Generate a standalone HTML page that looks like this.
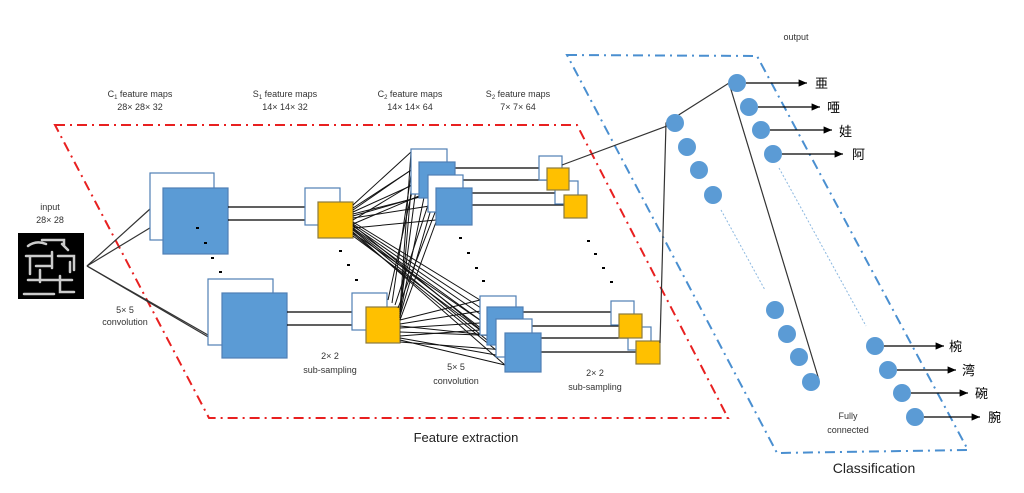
<!DOCTYPE html>
<html><head><meta charset="utf-8"><style>body{margin:0;background:#fff}svg{display:block}</style></head><body>
<svg width="1024" height="493" viewBox="0 0 1024 493" xmlns="http://www.w3.org/2000/svg" font-family="Liberation Sans, Noto Sans CJK JP, sans-serif">
<defs><marker id="a" markerWidth="8" markerHeight="8" refX="7" refY="4" orient="auto"><path d="M0,1 L7,4 L0,7 z" fill="#000"/></marker></defs>
<polygon points="55,125 577,125 728,418 209,418" fill="none" stroke="#e82020" stroke-width="2" stroke-dasharray="10,5,2,5"/>
<polygon points="567,55 757,56 968,450 777,453" fill="none" stroke="#4a8fd0" stroke-width="2" stroke-dasharray="10,5,2,5"/>
<rect x="18" y="233" width="66" height="66" fill="#000"/>
<g stroke="#ccc" stroke-width="2.5" fill="none" stroke-linecap="round"><path d="M28,246 q8,-6 18,-2 M42,240 h22 v6 M26,256 h26 M30,256 v18 M52,252 v16 M58,256 h16 v14 M36,266 h14 M28,280 h44 M40,270 v12 M60,276 v16 h14 M24,294 h30 M62,244 l6,6 M70,262 v10"/></g>
<g stroke="#333" stroke-width="1.2"><line x1="87" y1="266" x2="150" y2="209"/><line x1="87" y1="266" x2="163" y2="220"/><line x1="87" y1="266" x2="208" y2="335"/><line x1="87" y1="266" x2="222" y2="345"/></g>
<g stroke="#4f7fb5" stroke-width="1.2"><rect x="150" y="173" width="64" height="67" fill="#fff"/><rect x="163" y="188" width="65" height="66" fill="#5b9bd5"/><rect x="208" y="279" width="65" height="66" fill="#fff"/><rect x="222" y="293" width="65" height="65" fill="#5b9bd5"/></g>
<g stroke="#000" stroke-width="1.2"><line x1="228" y1="207" x2="305" y2="207"/><line x1="228" y1="220" x2="318" y2="220"/><line x1="287" y1="312" x2="352" y2="312"/><line x1="287" y1="325" x2="366" y2="325"/></g>
<g stroke="#4f7fb5" stroke-width="1.2"><rect x="305" y="188" width="35" height="37" fill="#fff"/><rect x="352" y="293" width="35" height="37" fill="#fff"/></g>
<g stroke="#8a7a40" stroke-width="1.2" fill="#ffc000"><rect x="318" y="202" width="35" height="36"/><rect x="366" y="307" width="34" height="36"/></g>
<g stroke="#111" stroke-width="1">
<line x1="353" y1="205" x2="411" y2="152"/><line x1="353" y1="208" x2="419" y2="165"/><line x1="353" y1="212" x2="428" y2="178"/><line x1="353" y1="216" x2="436" y2="192"/><line x1="353" y1="220" x2="411" y2="185"/><line x1="353" y1="224" x2="419" y2="196"/><line x1="353" y1="228" x2="436" y2="220"/><line x1="353" y1="210" x2="411" y2="170"/><line x1="353" y1="214" x2="428" y2="195"/><line x1="353" y1="218" x2="436" y2="205"/>
<line x1="353" y1="222" x2="480" y2="300"/><line x1="353" y1="224" x2="487" y2="312"/><line x1="353" y1="226" x2="496" y2="325"/><line x1="353" y1="228" x2="505" y2="338"/><line x1="353" y1="230" x2="487" y2="340"/><line x1="353" y1="232" x2="505" y2="365"/><line x1="353" y1="234" x2="496" y2="350"/><line x1="353" y1="236" x2="480" y2="330"/><line x1="353" y1="225" x2="505" y2="350"/><line x1="353" y1="229" x2="496" y2="340"/><line x1="353" y1="233" x2="487" y2="325"/>
<line x1="400" y1="310" x2="411" y2="152"/><line x1="400" y1="312" x2="419" y2="165"/><line x1="400" y1="314" x2="428" y2="178"/><line x1="400" y1="316" x2="436" y2="192"/><line x1="400" y1="318" x2="411" y2="190"/><line x1="400" y1="320" x2="436" y2="222"/><line x1="388" y1="300" x2="419" y2="160"/><line x1="395" y1="305" x2="428" y2="205"/><line x1="392" y1="303" x2="411" y2="175"/><line x1="398" y1="308" x2="436" y2="210"/>
<line x1="400" y1="320" x2="480" y2="300"/><line x1="400" y1="324" x2="487" y2="310"/><line x1="400" y1="328" x2="496" y2="322"/><line x1="400" y1="332" x2="505" y2="336"/><line x1="400" y1="336" x2="480" y2="330"/><line x1="400" y1="340" x2="505" y2="365"/><line x1="400" y1="338" x2="496" y2="355"/><line x1="400" y1="342" x2="505" y2="350"/><line x1="400" y1="326" x2="487" y2="335"/>
</g>
<g stroke="#000" stroke-width="1.2"><line x1="455" y1="168" x2="540" y2="168"/><line x1="455" y1="180" x2="547" y2="180"/><line x1="472" y1="193" x2="556" y2="193"/><line x1="472" y1="205" x2="564" y2="205"/>
<line x1="523" y1="312" x2="611" y2="312"/><line x1="523" y1="326" x2="619" y2="326"/><line x1="541" y1="338" x2="628" y2="338"/><line x1="541" y1="352" x2="636" y2="352"/></g>
<g stroke="#4f7fb5" stroke-width="1.2">
<rect x="411" y="149" width="36" height="45" fill="#fff"/><rect x="419" y="162" width="36" height="36" fill="#5b9bd5"/><rect x="428" y="175" width="35" height="37" fill="#fff"/><rect x="436" y="188" width="36" height="37" fill="#5b9bd5"/>
<rect x="480" y="296" width="36" height="39" fill="#fff"/><rect x="487" y="307" width="36" height="38" fill="#5b9bd5"/><rect x="496" y="319" width="36" height="38" fill="#fff"/><rect x="505" y="333" width="36" height="39" fill="#5b9bd5"/>
<rect x="539" y="156" width="23" height="24" fill="#fff"/><rect x="555" y="181" width="23" height="23" fill="#fff"/><rect x="611" y="301" width="23" height="24" fill="#fff"/><rect x="628" y="327" width="23" height="23" fill="#fff"/></g>
<g stroke="#8a7a40" stroke-width="1.2" fill="#ffc000"><rect x="547" y="168" width="22" height="22"/><rect x="564" y="195" width="23" height="23"/><rect x="619" y="314" width="23" height="24"/><rect x="636" y="341" width="24" height="23"/></g>
<g fill="#000"><rect x="196" y="227" width="3" height="2"/><rect x="204" y="242" width="3" height="2"/><rect x="211" y="257" width="3" height="2"/><rect x="219" y="271" width="3" height="2"/>
<rect x="339" y="250" width="3" height="2"/><rect x="347" y="264" width="3" height="2"/><rect x="355" y="279" width="3" height="2"/>
<rect x="459" y="237" width="3" height="2"/><rect x="467" y="252" width="3" height="2"/><rect x="475" y="267" width="3" height="2"/><rect x="482" y="280" width="3" height="2"/>
<rect x="587" y="240" width="3" height="2"/><rect x="594" y="253" width="3" height="2"/><rect x="602" y="267" width="3" height="2"/><rect x="610" y="281" width="3" height="2"/></g>
<g stroke="#333" stroke-width="1.2" fill="none"><line x1="562" y1="165" x2="675" y2="123"/><polyline points="660,343 666,123 729,83 819,380"/></g>
<g stroke="#8cb8e0" stroke-width="1" stroke-dasharray="2,2"><line x1="721" y1="210" x2="765" y2="290"/><line x1="779" y1="168" x2="866" y2="326"/></g>
<g fill="#5b9bd5"><circle cx="675" cy="123" r="9"/><circle cx="687" cy="147" r="9"/><circle cx="699" cy="170" r="9"/><circle cx="713" cy="195" r="9"/><circle cx="775" cy="310" r="9"/><circle cx="787" cy="334" r="9"/><circle cx="799" cy="357" r="9"/><circle cx="811" cy="382" r="9"/>
<circle cx="737" cy="83" r="9"/><circle cx="749" cy="107" r="9"/><circle cx="761" cy="130" r="9"/><circle cx="773" cy="154" r="9"/><circle cx="875" cy="346" r="9"/><circle cx="888" cy="370" r="9"/><circle cx="902" cy="393" r="9"/><circle cx="915" cy="417" r="9"/></g>
<g stroke="#000" stroke-width="1.2" marker-end="url(#a)"><line x1="746" y1="83" x2="807" y2="83"/><line x1="758" y1="107" x2="820" y2="107"/><line x1="770" y1="130" x2="832" y2="130"/><line x1="782" y1="154" x2="843" y2="154"/>
<line x1="884" y1="346" x2="944" y2="346"/><line x1="897" y1="370" x2="956" y2="370"/><line x1="911" y1="393" x2="968" y2="393"/><line x1="924" y1="417" x2="980" y2="417"/></g>
<g font-size="13" fill="#000"><text x="815" y="88">亜</text><text x="827" y="112">唖</text><text x="839" y="136">娃</text><text x="852" y="159">阿</text>
<text x="949" y="351">椀</text><text x="962" y="375">湾</text><text x="975" y="398">碗</text><text x="988" y="422">腕</text></g>
<g font-size="9" fill="#333" text-anchor="middle">
<text x="796" y="40">output</text><text x="848" y="419">Fully</text><text x="848" y="433">connected</text>
<text x="140" y="97">C<tspan font-size="6" dy="2">1</tspan><tspan dy="-2"> feature maps</tspan></text><text x="140" y="110">28× 28× 32</text>
<text x="285" y="97">S<tspan font-size="6" dy="2">1</tspan><tspan dy="-2"> feature maps</tspan></text><text x="285" y="110">14× 14× 32</text>
<text x="410" y="97">C<tspan font-size="6" dy="2">2</tspan><tspan dy="-2"> feature maps</tspan></text><text x="410" y="110">14× 14× 64</text>
<text x="518" y="97">S<tspan font-size="6" dy="2">2</tspan><tspan dy="-2"> feature maps</tspan></text><text x="518" y="110">7× 7× 64</text>
<text x="50" y="210">input</text><text x="50" y="223">28× 28</text>
<text x="125" y="313">5× 5</text><text x="125" y="325">convolution</text>
<text x="330" y="359">2× 2</text><text x="330" y="373">sub-sampling</text>
<text x="456" y="370">5× 5</text><text x="456" y="384">convolution</text>
<text x="595" y="376">2× 2</text><text x="595" y="390">sub-sampling</text></g>
<text x="466" y="442" font-size="13" fill="#222" text-anchor="middle">Feature extraction</text>
<text x="874" y="473" font-size="14" fill="#222" text-anchor="middle">Classification</text>
</svg>
</body></html>
